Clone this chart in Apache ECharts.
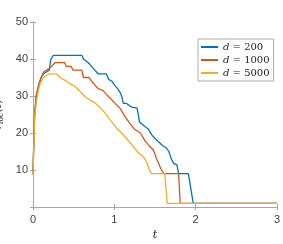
<!DOCTYPE html>
<html><head><meta charset="utf-8">
<script src="https://cdn.jsdelivr.net/npm/echarts@6/dist/echarts.min.js"></script>
<style>html,body{margin:0;padding:0;background:#fff}#c{width:283px;height:244px}</style>
</head><body><div id="c"></div>
<script>
var seriesNames = ['d = 200', 'd = 1000', 'd = 5000'];
var xTicks = [0, 1, 2, 3];
var yTicks = [10, 20, 30, 40, 50];
var dataD200 = [[0,9],[0.02,25],[0.04,30],[0.07,33],[0.1,35],[0.13,36],[0.2,37],[0.22,40],[0.25,41],[0.6,41],[0.62,40],[0.68,39],[0.72,38],[0.76,37],[0.8,36],[0.9,36],[0.93,34.5],[0.97,34],[1.0,33],[1.04,32],[1.07,31],[1.09,30],[1.11,28],[1.15,28],[1.21,27],[1.28,26.7],[1.31,23],[1.36,22],[1.42,21],[1.46,19.5],[1.5,18.5],[1.55,17.5],[1.6,16.5],[1.64,16],[1.67,15],[1.7,13],[1.73,11.8],[1.77,11.4],[1.79,9],[1.91,9],[1.97,1],[3,1]];
var dataD1000 = [[0,10],[0.02,25],[0.04,30],[0.07,33],[0.1,35],[0.13,36.5],[0.2,37.5],[0.23,38],[0.27,39],[0.39,39],[0.41,38],[0.47,38],[0.49,37],[0.6,37],[0.62,35],[0.69,35],[0.72,34],[0.76,33],[0.8,32],[0.86,31.5],[0.89,30.7],[0.95,29.4],[1.01,28],[1.07,26.7],[1.13,24.5],[1.19,22.6],[1.25,21],[1.32,20],[1.38,17.8],[1.43,16.5],[1.48,15.4],[1.52,13],[1.58,10],[1.61,9],[1.79,9],[1.81,1],[3,1]];
var dataD5000 = [[0,8.6],[0.02,24],[0.045,29],[0.07,32],[0.09,33.5],[0.13,35],[0.2,36],[0.29,36],[0.33,35],[0.39,34.3],[0.45,33.4],[0.52,32.5],[0.58,31.2],[0.64,29.8],[0.7,28.9],[0.76,28.2],[0.82,27],[0.89,25.3],[0.95,23.5],[1.03,21.3],[1.09,20],[1.15,18.5],[1.21,17],[1.3,14.5],[1.36,13.5],[1.4,12],[1.43,10],[1.46,9],[1.62,9],[1.65,1],[3,1]];
var colors = ['#0072BD', '#D95319', '#EDB120'];

var chart = echarts.init(document.getElementById('c'), null, {renderer: 'canvas'});
var axisCol = '#a6a6a6';
var labelCol = '#404040';
var grid = {left: 33, top: 22, right: 6, bottom: 37, show: false, containLabel: false, outerBoundsMode: 'none'};
function mkSeries(name, data, col) {
  return {name: name, type: 'line', data: data, showSymbol: false, symbol: 'none',
    lineStyle: {color: col, width: 1.3}, itemStyle: {color: col}, animation: false};
}
var opt = {
  animation: false,
  grid: grid,
  legend: {
    data: seriesNames, orient: 'vertical', left: 198, top: 39,
    itemWidth: 17, itemHeight: 2, itemGap: 3, padding: [3, 4, 3, 3],
    backgroundColor: '#fff', borderColor: '#999', borderWidth: 0.8,
    icon: 'rect',
    formatter: function (n) { return '{i|d}{t| = ' + n.split('= ')[1] + '}'; },
    textStyle: {
      rich: {
        i: {fontFamily: 'DejaVu Serif, serif', fontStyle: 'italic', fontSize: 10, color: '#222'},
        t: {fontFamily: 'DejaVu Serif, serif', fontSize: 10, color: '#222'}
      }
    }
  },
  xAxis: [{
    type: 'value', min: 0, max: 3, interval: 1,
    axisLine: {lineStyle: {color: axisCol, width: 1}},
    axisTick: {inside: true, length: 3, lineStyle: {color: axisCol}},
    splitLine: {show: false},
    axisLabel: {color: labelCol, fontFamily: 'Liberation Sans, Arial, sans-serif', fontSize: 11, margin: 7},
    name: 't', nameLocation: 'middle', nameGap: 22,
    nameTextStyle: {fontFamily: 'DejaVu Serif, serif', fontStyle: 'italic', fontSize: 11, color: '#222'}
  }, {
    type: 'value', position: 'top', min: 0, max: 3, interval: 1,
    axisLine: {lineStyle: {color: axisCol, width: 1}},
    axisTick: {inside: true, length: 3, lineStyle: {color: axisCol}},
    axisLabel: {show: false}, splitLine: {show: false}
  }],
  yAxis: [{
    type: 'value', min: 0, max: 50, interval: 10,
    axisLine: {show: true, lineStyle: {color: axisCol, width: 1}},
    axisTick: {show: true, inside: true, length: 3, lineStyle: {color: axisCol}},
    splitLine: {show: false},
    axisLabel: {color: labelCol, fontFamily: 'Liberation Sans, Arial, sans-serif', fontSize: 11, margin: 5,
      formatter: function (v) { return yTicks.indexOf(v) >= 0 ? String(v) : ''; }},
    name: '{i|r}{s|loc}{n|(}{i|t}{n|)}', nameLocation: 'middle', nameGap: 24, nameRotate: 90,
    nameTextStyle: {
      rich: {
        i: {fontFamily: 'DejaVu Serif, serif', fontStyle: 'italic', fontSize: 11, color: '#222', lineHeight: 14},
        n: {fontFamily: 'DejaVu Serif, serif', fontSize: 11, color: '#222', lineHeight: 14},
        s: {fontFamily: 'DejaVu Serif, serif', fontSize: 7.5, color: '#222', lineHeight: 14, verticalAlign: 'bottom', padding: [5, 0, 0, 0]}
      }
    }
  }, {
    type: 'value', position: 'right', min: 0, max: 50, interval: 10,
    axisLine: {show: true, lineStyle: {color: axisCol, width: 1}},
    axisTick: {show: true, inside: true, length: 3, lineStyle: {color: axisCol}},
    axisLabel: {show: false}, splitLine: {show: false}
  }],
  series: [
    mkSeries(seriesNames[0], dataD200, colors[0]),
    mkSeries(seriesNames[1], dataD1000, colors[1]),
    mkSeries(seriesNames[2], dataD5000, colors[2])
  ]
};
chart.setOption(opt);
</script></body></html>
